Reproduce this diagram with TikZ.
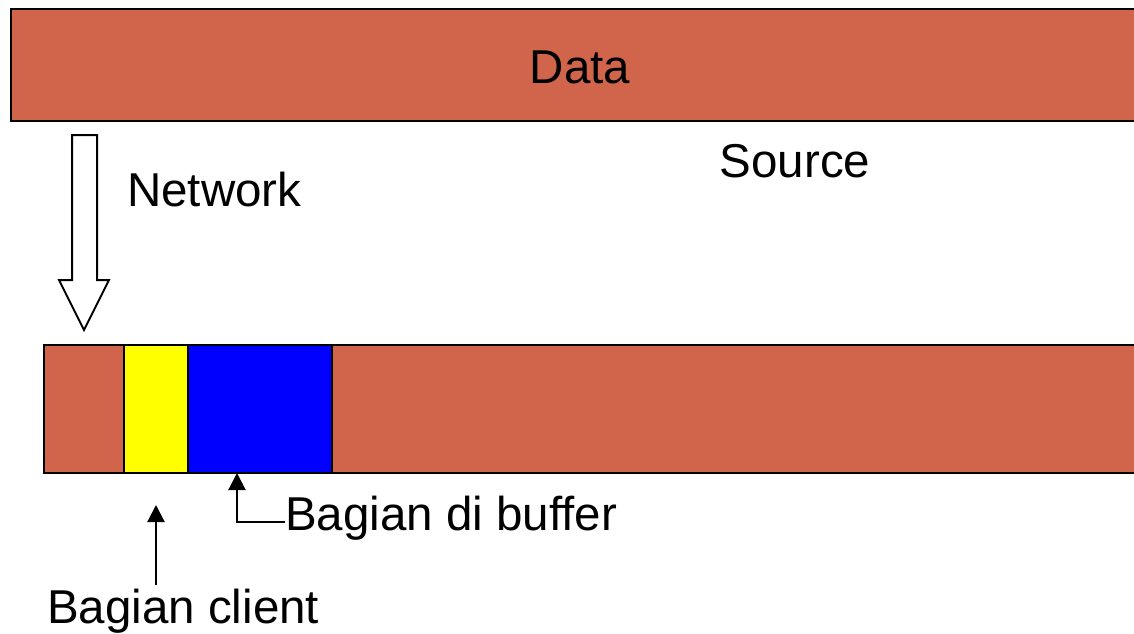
\documentclass[tikz,border=0pt]{standalone}
\usepackage{fontspec}
\setmainfont{Liberation Sans}
\usetikzlibrary{arrows.meta}
\definecolor{barred}{RGB}{209,101,76}
\definecolor{clientyellow}{RGB}{255,255,0}
\definecolor{bufferblue}{RGB}{0,0,255}
\tikzset{
  segment/.style={draw=black, line width=2pt},
  label text/.style={inner sep=0pt, font=\fontsize{47.5}{52}\selectfont},
  pointer/.style={draw=black, line width=2.2pt, -{Triangle[length=17pt,width=17pt]}},
}
\begin{document}
\begin{tikzpicture}[x=1pt,y=-1pt]
\useasboundingbox (0,0) rectangle (1134,633);
\clip (0,0) rectangle (1134,633);
\fill[white] (0,0) rectangle (1134,633);

% source data stream
\path[segment, fill=barred] (11,9) rectangle (1150,121);
\node[label text, anchor=base] (data) at (580,83) {Data};
\node[label text, anchor=base] (source) at (795,177) {Source};

% network transfer arrow
\draw[line width=2pt, fill=white, line join=miter]
  (72,135) -- (97,135) -- (97,280) -- (109,280) -- (84,330) -- (59,280) -- (72,280) -- cycle;
\node[label text, anchor=base west] (network) at (127,206) {Network};

% received stream with client part and buffered part
\path[segment, fill=barred] (44,345) rectangle (1150,473);
\path[segment, fill=clientyellow] (124,345) rectangle (188,473);
\path[segment, fill=bufferblue] (188,345) rectangle (332,473);
\coordinate (bufpt) at (237,473);
\coordinate (clientpt) at (156,505);

% labels and pointers
\node[label text, anchor=base west] (buflabel) at (285,530) {Bagian di buffer};
\node[label text, anchor=base west] (clientlabel) at (47,623) {Bagian client};
\draw[pointer] (buflabel.west |- 0,522) -| (bufpt);
\draw[pointer] (clientpt |- 0,585) -- (clientpt);
\end{tikzpicture}
\end{document}
